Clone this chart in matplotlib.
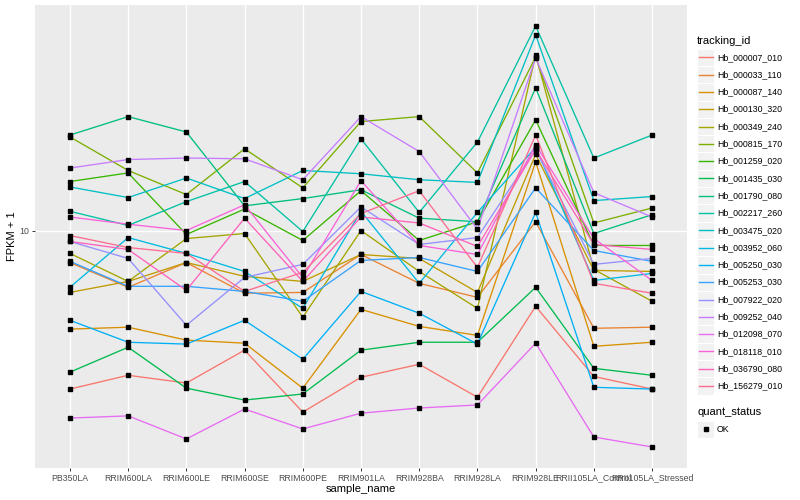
# FPKM + 1 per sample for 20 transcripts, drawn the way ggplot2's theme_grey lays it out.
import matplotlib
matplotlib.use("Agg")
import matplotlib.pyplot as plt
from matplotlib.patches import Rectangle
from matplotlib.lines import Line2D
import numpy as np

samples = ["PB350LA", "RRIM600LA", "RRIM600LE", "RRIM600SE", "RRIM600PE", "RRIM901LA",
           "RRIM928BA", "RRIM928LA", "RRIM928LE", "RRII105LA_Control", "RRII105LA_Stressed"]

# FPKM + 1, one list per tracking_id, in sample order
hb_000007_010 = [2.94, 3.27, 3.08, 3.97, 2.46, 3.22, 3.56, 2.76, 5.57, 3.24, 2.94]
hb_000033_110 = [7.81, 6.45, 7.81, 6.16, 6.20, 8.31, 6.65, 5.97, 10.7, 4.70, 4.74]
hb_000087_140 = [4.67, 4.74, 4.29, 4.19, 2.96, 5.44, 4.77, 4.45, 17.0, 4.09, 4.22]
hb_000130_320 = [6.20, 6.75, 7.81, 7.02, 6.75, 8.31, 8.06, 6.20, 18.0, 7.35, 7.29]
hb_000349_240 = [8.38, 6.75, 9.40, 9.77, 5.12, 10.0, 7.29, 5.48, 38.8, 7.41, 5.79]
hb_000815_170 = [20.6, 15.9, 13.2, 18.8, 13.9, 23.2, 24.1, 15.6, 38.2, 10.6, 11.9]
hb_001259_020 = [14.6, 15.6, 9.70, 11.8, 9.26, 13.6, 9.26, 10.7, 23.5, 8.91, 8.91]
hb_001435_030 = [3.35, 4.06, 2.96, 2.70, 2.83, 3.97, 4.22, 4.22, 6.45, 3.45, 3.27]
hb_001790_080 = [20.9, 24.1, 21.4, 12.1, 12.8, 13.7, 11.0, 10.7, 30.1, 9.77, 11.3]
hb_002217_260 = [11.6, 10.4, 12.5, 14.6, 9.92, 20.3, 11.5, 19.8, 48.5, 17.5, 20.9]
hb_003475_020 = [14.0, 12.9, 15.0, 12.8, 15.9, 15.5, 14.8, 14.5, 45.3, 12.6, 13.0]
hb_003952_060 = [6.45, 9.47, 8.38, 7.29, 5.48, 11.6, 6.65, 11.5, 19.0, 6.80, 7.18]
hb_005250_030 = [5.00, 4.22, 4.16, 5.00, 3.70, 6.25, 5.28, 4.16, 11.5, 2.98, 2.94]
hb_005253_030 = [7.88, 6.50, 6.50, 6.25, 5.79, 7.94, 8.12, 7.29, 13.9, 8.57, 7.88]
hb_007922_020 = [9.19, 8.06, 4.81, 6.96, 7.70, 12.0, 8.98, 9.47, 18.7, 7.70, 8.06]
hb_009252_040 = [16.2, 17.3, 17.5, 17.4, 14.8, 24.1, 18.4, 10.1, 37.9, 13.4, 11.1]
hb_012098_070 = [2.35, 2.39, 2.00, 2.52, 2.16, 2.44, 2.54, 2.60, 4.19, 2.03, 1.88]
hb_018118_010 = [11.1, 10.5, 10.0, 12.2, 6.96, 14.7, 8.91, 8.31, 19.4, 9.40, 6.80]
hb_036790_080 = [9.19, 8.64, 6.30, 11.0, 6.75, 11.1, 10.6, 8.84, 18.7, 8.98, 8.64]
hb_156279_010 = [9.62, 8.77, 8.38, 6.25, 7.24, 11.4, 13.6, 7.52, 20.9, 6.65, 6.16]

tracking_ids = ["Hb_000007_010", "Hb_000033_110", "Hb_000087_140", "Hb_000130_320",
                "Hb_000349_240", "Hb_000815_170", "Hb_001259_020", "Hb_001435_030",
                "Hb_001790_080", "Hb_002217_260", "Hb_003475_020", "Hb_003952_060",
                "Hb_005250_030", "Hb_005253_030", "Hb_007922_020", "Hb_009252_040",
                "Hb_012098_070", "Hb_018118_010", "Hb_036790_080", "Hb_156279_010"]
series = [hb_000007_010, hb_000033_110, hb_000087_140, hb_000130_320, hb_000349_240,
          hb_000815_170, hb_001259_020, hb_001435_030, hb_001790_080, hb_002217_260,
          hb_003475_020, hb_003952_060, hb_005250_030, hb_005253_030, hb_007922_020,
          hb_009252_040, hb_012098_070, hb_018118_010, hb_036790_080, hb_156279_010]

# ggplot2 hue_pal()(20)
HUES = ["#F8766D", "#EA8331", "#D89000", "#C09B00", "#A3A500", "#7CAE00", "#39B600",
        "#00BB4E", "#00BF7D", "#00C1A3", "#00BFC4", "#00BAE0", "#00B0F6", "#35A2FF",
        "#9590FF", "#C77CFF", "#E76BF3", "#FA62DB", "#FF62BC", "#FF6C90"]

plt.rcParams.update({"font.family": ["Liberation Sans", "DejaVu Sans"]})
W, H = 800, 500


def fx(x):
    return x / W


def fy(y):
    return 1 - y / H


fig = plt.figure(figsize=(8, 5), dpi=100)
fig.patch.set_facecolor("white")
ax = fig.add_axes([fx(35), fy(468), (687 - 35) / W, (468 - 5) / H])
ax.set_facecolor("#EBEBEB")
for s in ax.spines.values():
    s.set_visible(False)

x = np.arange(len(samples))
for vals, col in zip(series, HUES):
    ax.plot(x, vals, color=col, lw=0.95, zorder=2, solid_capstyle="butt")
for vals in series:
    ax.plot(x, vals, ls="none", marker="s", ms=2.7, color="black", zorder=3)

ax.set_yscale("log")
allv = np.log10(np.concatenate([np.asarray(v) for v in series]))
lo, hi = allv.min(), allv.max()
pad = 0.05 * (hi - lo)
ax.set_ylim(10 ** (lo - pad), 10 ** (hi + pad))
ax.set_xlim(-0.6, len(samples) - 0.4)
ax.set_yticks([10])
ax.set_yticklabels(["10"])
ax.yaxis.set_minor_locator(matplotlib.ticker.NullLocator())
ax.set_xticks(x)
ax.set_xticklabels(samples)
ax.grid(True, color="white", lw=1.0)
ax.set_axisbelow(True)
ax.tick_params(axis="both", labelsize=6.3, labelcolor="#4D4D4D", color="#333333",
               length=2.2, width=0.7, pad=1.8)

fig.text(fx(361), fy(489), "sample_name", fontsize=8, ha="center", va="center")
fig.text(fx(12), fy(236), "FPKM + 1", fontsize=8, ha="center", va="center", rotation=90)

# legend: tracking_id
fig.text(fx(697), fy(40.5), "tracking_id", fontsize=8, ha="left", va="center")
step = 17.3
for i, (name, col) in enumerate(zip(tracking_ids, HUES)):
    yc = 57.3 + step * i
    fig.add_artist(Rectangle((fx(697), fy(yc + step / 2)), step / W, step / H,
                             transform=fig.transFigure, facecolor="#F2F2F2",
                             edgecolor="white", lw=0.8))
    fig.add_artist(Line2D([fx(698.7), fx(712.6)], [fy(yc), fy(yc)],
                          transform=fig.transFigure, color=col, lw=1.0))
    fig.text(fx(717), fy(yc), name, fontsize=6.3, ha="left", va="center")

# legend: quant_status
fig.text(fx(697), fy(412.3), "quant_status", fontsize=8, ha="left", va="center")
yc = 429.3
fig.add_artist(Rectangle((fx(697), fy(yc + step / 2)), step / W, step / H,
                         transform=fig.transFigure, facecolor="#F2F2F2",
                         edgecolor="white", lw=0.8))
fig.add_artist(Line2D([fx(705.6)], [fy(yc)], transform=fig.transFigure, ls="none",
                      marker="s", ms=2.7, color="black"))
fig.text(fx(717), fy(yc), "OK", fontsize=6.3, ha="left", va="center")

fig.savefig("out.png", dpi=100)
